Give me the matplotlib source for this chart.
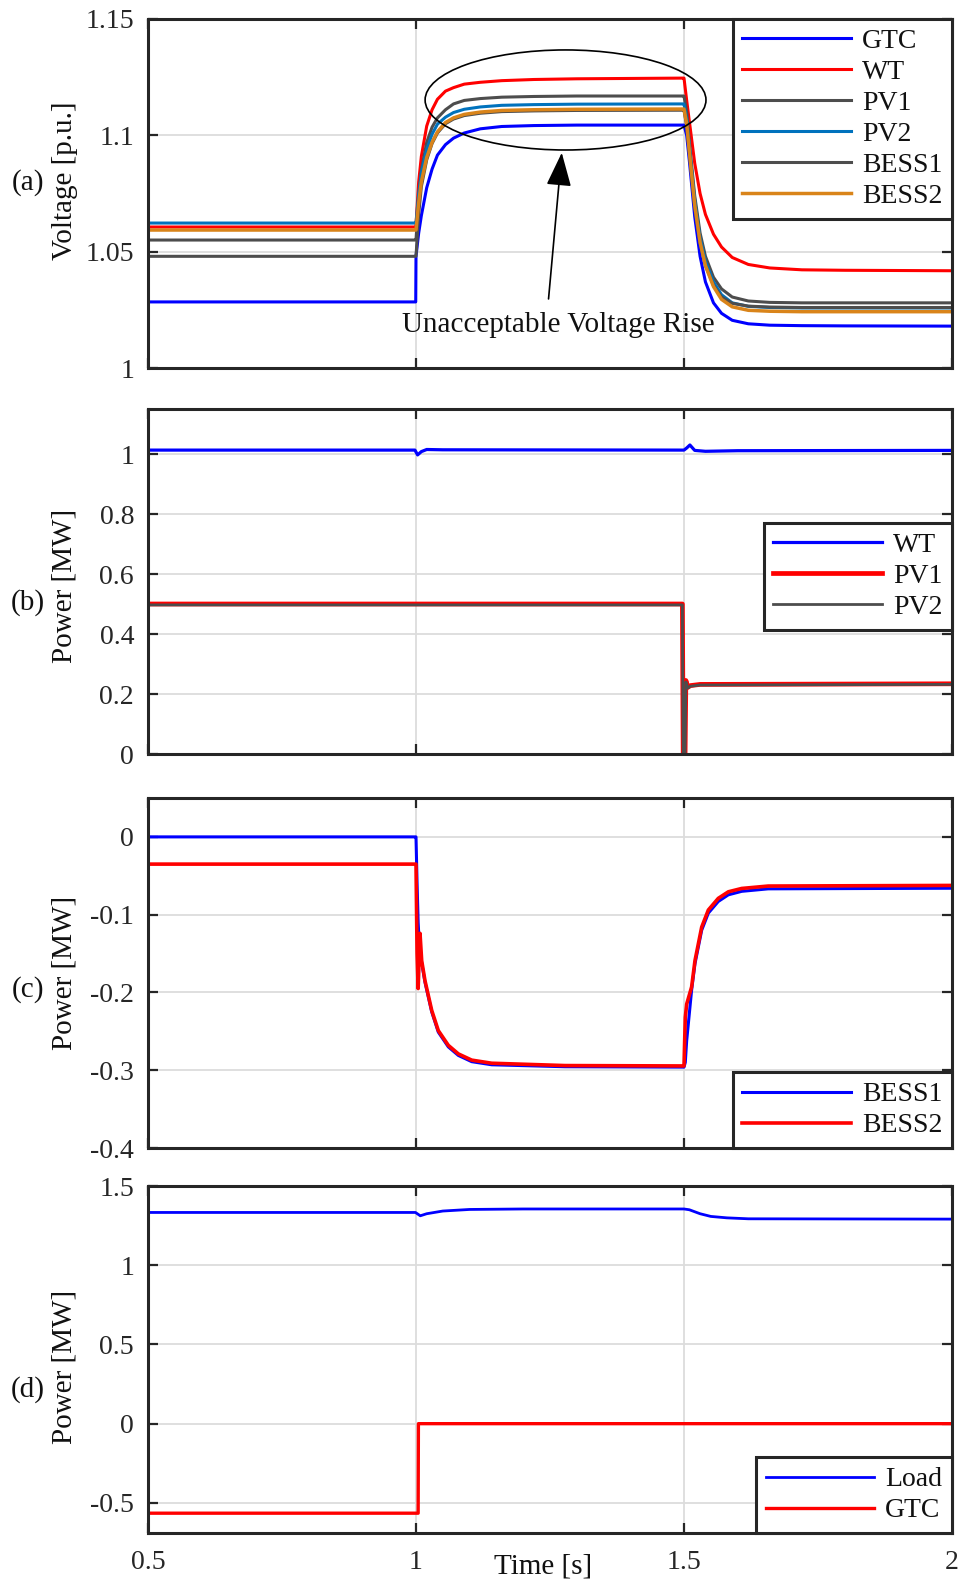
import matplotlib
matplotlib.use("Agg")
import matplotlib.pyplot as plt
from matplotlib.patches import Ellipse

plt.rcParams["font.family"] = ["Liberation Serif", "DejaVu Serif"]
plt.rcParams["axes.unicode_minus"] = False
plt.rcParams["font.size"] = 20

# ---------------- data ----------------
# (a) bus voltages [p.u.]
t_a = [0.5, 0.9995, 1.0, 1.005, 1.01, 1.02, 1.03, 1.04, 1.055, 1.07, 1.09, 1.12, 1.16, 1.22, 1.3,
       1.4995, 1.5, 1.505, 1.51, 1.52, 1.53, 1.54, 1.555, 1.57, 1.59, 1.62, 1.66, 1.72, 1.8, 2.0]
v_gtc = [1.0284, 1.0284, 1.048, 1.058, 1.0655, 1.0775, 1.0855, 1.0915, 1.0960, 1.0988, 1.1010, 1.1028, 1.1038, 1.1042, 1.1044,
         1.1044, 1.1044, 1.1000, 1.0890, 1.0650, 1.0480, 1.0370, 1.0280, 1.0235, 1.0205, 1.0190, 1.0184, 1.0182, 1.0181, 1.0180]
v_wt = [1.0606, 1.0606, 1.0615, 1.080, 1.091, 1.104, 1.111, 1.1155, 1.119, 1.1205, 1.122, 1.1228, 1.1235, 1.124, 1.1243,
        1.1246, 1.1246, 1.115, 1.106, 1.088, 1.075, 1.066, 1.0575, 1.052, 1.0475, 1.0445, 1.043, 1.0422, 1.042, 1.0418]
v_pv1 = [1.055, 1.055, 1.055, 1.073, 1.085, 1.097, 1.1035, 1.1075, 1.111, 1.1135, 1.115, 1.1158, 1.1164, 1.1167, 1.1169,
         1.1169, 1.1169, 1.110, 1.097, 1.074, 1.058, 1.048, 1.039, 1.034, 1.0305, 1.0288, 1.0282, 1.028, 1.028, 1.028]
v_pv2 = [1.0623, 1.0623, 1.0623, 1.075, 1.084, 1.094, 1.1005, 1.1048, 1.1078, 1.1098, 1.1112, 1.1122, 1.1129, 1.1132, 1.1134,
         1.1135, 1.1135, 1.107, 1.095, 1.072, 1.056, 1.046, 1.037, 1.0315, 1.028, 1.0265, 1.026, 1.0258, 1.0258, 1.0258]
v_bess1 = [1.048, 1.048, 1.048, 1.066, 1.078, 1.0895, 1.0965, 1.101, 1.105, 1.107, 1.1085, 1.1095, 1.1102, 1.1105, 1.1107,
           1.1108, 1.1108, 1.104, 1.092, 1.069, 1.0535, 1.044, 1.0355, 1.0305, 1.0278, 1.0266, 1.0262, 1.026, 1.026, 1.026]
v_bess2 = [1.0593, 1.0593, 1.0593, 1.071, 1.080, 1.0905, 1.097, 1.1015, 1.1055, 1.1075, 1.109, 1.110, 1.1107, 1.111, 1.1112,
           1.1113, 1.1113, 1.105, 1.093, 1.070, 1.054, 1.044, 1.035, 1.0295, 1.0263, 1.0248, 1.0244, 1.0242, 1.0242, 1.0242]

# (b) WT / PV power [MW]
t_wt = [0.5, 0.998, 1.003, 1.01, 1.02, 1.05, 1.5, 1.505, 1.511, 1.52, 1.54, 1.6, 2.0]
p_wt = [1.013, 1.013, 0.997, 1.008, 1.015, 1.014, 1.013, 1.02, 1.03, 1.012, 1.009, 1.011, 1.012]
t_pv = [0.5, 1.497, 1.4985, 1.502, 1.5035, 1.507, 1.512, 1.53, 2.0]
p_pv1 = [0.5, 0.5, 0.0, 0.0, 0.245, 0.222, 0.228, 0.232, 0.234]
p_pv2 = [0.497, 0.497, 0.0, 0.0, 0.24, 0.22, 0.226, 0.230, 0.232]

# (c) BESS power [MW]
t_c = [0.5, 0.9995, 1.0, 1.002, 1.004, 1.0075, 1.0106, 1.0168, 1.0293, 1.0416, 1.0603, 1.079, 1.1039, 1.1412,
       1.278, 1.4995, 1.5, 1.5024, 1.505, 1.5142, 1.5205, 1.533, 1.5454, 1.564, 1.5827, 1.6076, 1.657, 2.0]
p_bess1 = [0.0, 0.0, 0.0, -0.06, -0.11, -0.155, -0.162, -0.187, -0.225, -0.251, -0.270, -0.281, -0.289, -0.293,
           -0.2955, -0.296, -0.296, -0.29, -0.262, -0.197, -0.163, -0.12, -0.098, -0.083, -0.0745, -0.070, -0.0668, -0.066]
p_bess2 = [-0.035, -0.035, -0.035, -0.15, -0.195, -0.124, -0.159, -0.185, -0.223, -0.249, -0.268, -0.279, -0.287, -0.291,
           -0.294, -0.2945, -0.2945, -0.232, -0.215, -0.193, -0.159, -0.116, -0.094, -0.079, -0.0706, -0.0663, -0.0632, -0.0624]

# (d) load / GTC power [MW]
t_load = [0.5, 0.999, 1.008, 1.02, 1.05, 1.1, 1.2, 1.5, 1.51, 1.53, 1.55, 1.58, 1.62, 2.0]
p_load = [1.333, 1.333, 1.312, 1.325, 1.342, 1.352, 1.355, 1.355, 1.35, 1.325, 1.308, 1.299, 1.293, 1.291]
t_gtc = [0.5, 1.004, 1.0045, 2.0]
p_gtc = [-0.565, -0.565, 0.0, 0.0]

# axis ticks / labels
xt = [0.5, 1, 1.5, 2]
xtl = ["0.5", "1", "1.5", "2"]
yt_a, ytl_a = [1, 1.05, 1.1, 1.15], ["1", "1.05", "1.1", "1.15"]
yt_b, ytl_b = [0, 0.2, 0.4, 0.6, 0.8, 1], ["0", "0.2", "0.4", "0.6", "0.8", "1"]
yt_c, ytl_c = [-0.4, -0.3, -0.2, -0.1, 0], ["-0.4", "-0.3", "-0.2", "-0.1", "0"]
yt_d, ytl_d = [-0.5, 0, 0.5, 1, 1.5], ["-0.5", "0", "0.5", "1", "1.5"]

BLUE, RED = "#0000ff", "#ff0000"
GRAY = "#4d4d4d"
MBLUE = "#0072bd"
ORANGE = "#d9841a"
DARK = "#262626"
TXT = "#111111"

W, H = 961, 1583
fig = plt.figure(figsize=(W / 100, H / 100), dpi=100)


def make_axes(top, bottom):
    ax = fig.add_axes([148 / W, 1 - bottom / H, (952 - 148) / W, (bottom - top) / H])
    ax.set_xlim(0.5, 2)
    ax.set_xticks(xt)
    ax.grid(True, color="#dcdcdc", lw=1.3)
    ax.set_axisbelow(True)
    ax.tick_params(direction="in", top=True, right=True, length=7, width=1.6,
                   color=DARK, labelcolor=DARK, labelsize=20, pad=10)
    ax.tick_params(axis="x", pad=12)
    for s in ax.spines.values():
        s.set_linewidth(2.2)
        s.set_color(DARK)
    return ax


def style_legend(leg):
    fr = leg.get_frame()
    fr.set_linewidth(2.2)
    fr.set_edgecolor(DARK)
    fr.set_alpha(1)
    for txt in leg.get_texts():
        txt.set_color(TXT)


leg_kw = dict(fontsize=20, fancybox=False, borderaxespad=0, borderpad=0.35,
              handlelength=3.9, handletextpad=0.4, labelspacing=0.2)

# ---- (a)
ax = make_axes(19, 368)
ax.plot(t_a, v_gtc, color=BLUE, lw=2.2, label="GTC")
ax.plot(t_a, v_wt, color=RED, lw=2.2, label="WT")
ax.plot(t_a, v_pv1, color=GRAY, lw=2.2, label="PV1")
ax.plot(t_a, v_pv2, color=MBLUE, lw=2.2, label="PV2")
ax.plot(t_a, v_bess1, color=GRAY, lw=2.2, label="BESS1")
ax.plot(t_a, v_bess2, color=ORANGE, lw=2.5, label="BESS2")
ax.set_ylim(1, 1.15)
ax.set_yticks(yt_a)
ax.set_yticklabels(ytl_a)
ax.set_xticklabels([])
ax.add_patch(Ellipse((1.279, 1.1152), 0.524, 0.043, fill=False, ec="k", lw=1.2, zorder=5))
ax.annotate("", xy=(1.2724, 1.0937), xytext=(1.2468, 1.0285),
            arrowprops=dict(arrowstyle="-|>,head_length=0.75,head_width=0.28",
                            mutation_scale=28, color="k", lw=1.2))
ax.text(1.265, 1.0185, "Unacceptable Voltage Rise", ha="center", va="center",
        fontsize=21, color=TXT)
style_legend(ax.legend(loc="upper right", **leg_kw))

# ---- (b)
ax = make_axes(409, 754)
ax.plot(t_wt, p_wt, color=BLUE, lw=2.3, label="WT")
ax.plot(t_pv, p_pv1, color=RED, lw=3.4, label="PV1")
ax.plot(t_pv, p_pv2, color=GRAY, lw=2.0, label="PV2")
ax.set_ylim(0, 1.15)
ax.set_yticks(yt_b)
ax.set_yticklabels(ytl_b)
ax.set_xticklabels([])
style_legend(ax.legend(loc="upper right", bbox_to_anchor=(1.0, 0.67), **leg_kw))

# ---- (c)
ax = make_axes(798, 1148)
ax.plot(t_c, p_bess1, color=BLUE, lw=2.2, label="BESS1")
ax.plot(t_c, p_bess2, color=RED, lw=2.6, label="BESS2")
ax.set_ylim(-0.4, 0.05)
ax.set_yticks(yt_c)
ax.set_yticklabels(ytl_c)
ax.set_xticklabels([])
style_legend(ax.legend(loc="lower right", **leg_kw))

# ---- (d)
ax = make_axes(1186, 1533)
ax.plot(t_load, p_load, color=BLUE, lw=2.0, label="Load")
ax.plot(t_gtc, p_gtc, color=RED, lw=2.4, label="GTC")
ax.set_ylim(-0.69, 1.5)
ax.set_yticks(yt_d)
ax.set_yticklabels(ytl_d)
ax.set_xticklabels(xtl)
style_legend(ax.legend(loc="lower right", **leg_kw))

# panel tags and y labels
ylabels = [("(a)", "Voltage [p.u.]", 183, 181), ("(b)", "Power [MW]", 603, 586),
           ("(c)", "Power [MW]", 990, 973), ("(d)", "Power [MW]", 1390, 1367)]
for tag, lab, ytag, ylab in ylabels:
    fig.text(28 / W, 1 - ytag / H, tag, ha="center", va="center", fontsize=21, color=TXT)
    fig.text(65 / W, 1 - ylab / H, lab, ha="center", va="center", rotation=90,
             fontsize=21, color=TXT)

fig.text(543 / W, 1 - 1553 / H, "Time [s]", ha="center", va="top", fontsize=21, color=TXT)

fig.savefig("out.png", dpi=100)
